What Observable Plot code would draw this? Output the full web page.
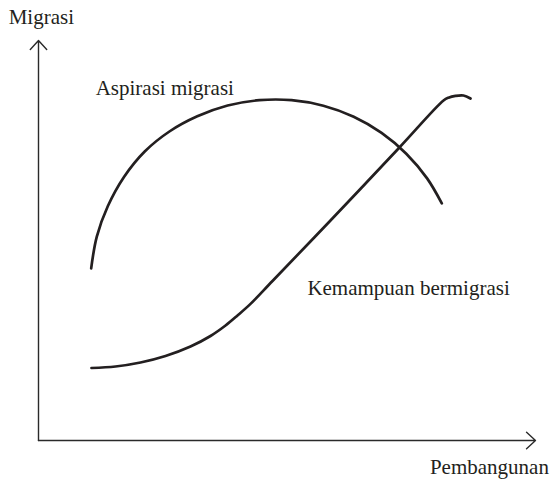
<!DOCTYPE html>
<html>
<head>
<meta charset="utf-8">
<script src="https://cdn.jsdelivr.net/npm/d3@7"></script>
<script src="https://cdn.jsdelivr.net/npm/@observablehq/plot@0.6"></script>
<style>
  html, body { margin: 0; padding: 0; background: #fff; }
  #chart svg { display: block; }
</style>
</head>
<body>
<div id="chart"></div>
<script>
// Conceptual curves (Pembangunan on x, Migrasi on y, arbitrary 0–100 units)
const aspirasiX = [10.60, 11.73, 13.94, 17.20, 21.37, 26.34, 31.95, 38.05, 44.45, 50.93, 57.32, 63.42, 69.03, 74.00, 78.19, 81.15];
const aspirasiY = [43.03, 50.98, 58.55, 65.88, 72.25, 77.25, 81.05, 83.75, 85.08, 85.08, 83.68, 80.93, 76.90, 71.70, 65.53, 59.28];

const kemampuanX = [10.66, 15.49, 20.52, 25.55, 30.58, 34.61, 37.63, 40.04, 42.66, 47.08, 58.75, 72.43, 81.49, 82.49, 83.90, 85.51, 86.92];
const kemampuanY = [18.13, 18.50, 19.50, 21.13, 23.50, 26.13, 28.75, 31.25, 34.15, 39.88, 55.00, 73.00, 85.00, 85.70, 86.15, 86.25, 85.50];

const labelTexts = ["Migrasi", "Aspirasi migrasi", "Kemampuan bermigrasi", "Pembangunan"];
const labelX = [-6.0, 11.5, 54.1, 102.7];
const labelY = [104.2, 86.3, 36.3, -8.3];
const labelAnchor = ["start", "start", "start", "end"];

const axisOrigin = [0, 0];
const axisEnd = [100, 100];

const aspirasi = aspirasiX.map((x, i) => ({x, y: aspirasiY[i]}));
const kemampuan = kemampuanX.map((x, i) => ({x, y: kemampuanY[i]}));
const labels = labelTexts.map((t, i) => ({t, x: labelX[i], y: labelY[i], a: labelAnchor[i]}));
const axes = [
  {x1: axisOrigin[0], y1: axisOrigin[1], x2: axisOrigin[0], y2: axisEnd[1]},
  {x1: axisOrigin[0], y1: axisOrigin[1], x2: axisEnd[0], y2: axisOrigin[1]}
];

const ink = "#231f20";
const textMark = (anchor) => Plot.text(labels.filter(d => d.a === anchor), {
  x: "x", y: "y", text: "t",
  textAnchor: anchor, lineAnchor: "bottom",
  fontSize: 21, fill: ink, fontFamily: "'Liberation Serif', serif"
});

const chart = Plot.plot({
  width: 552,
  height: 479,
  marginLeft: 38,
  marginRight: 17,
  marginTop: 40,
  marginBottom: 39,
  x: {domain: [0, 100], axis: null},
  y: {domain: [0, 100], axis: null},
  style: {background: "#fff", fontFamily: "'Liberation Serif', serif"},
  marks: [
    Plot.arrow(axes, {
      x1: "x1", y1: "y1", x2: "x2", y2: "y2",
      stroke: "#2a2a2a", strokeWidth: 1.4, headLength: 13, headAngle: 85
    }),
    Plot.line(aspirasi, {x: "x", y: "y", curve: "catmull-rom", stroke: ink, strokeWidth: 2.7}),
    Plot.line(kemampuan, {x: "x", y: "y", curve: "catmull-rom", stroke: ink, strokeWidth: 2.7}),
    textMark("start"),
    textMark("end")
  ]
});

document.getElementById("chart").appendChild(chart);
</script>
</body>
</html>
